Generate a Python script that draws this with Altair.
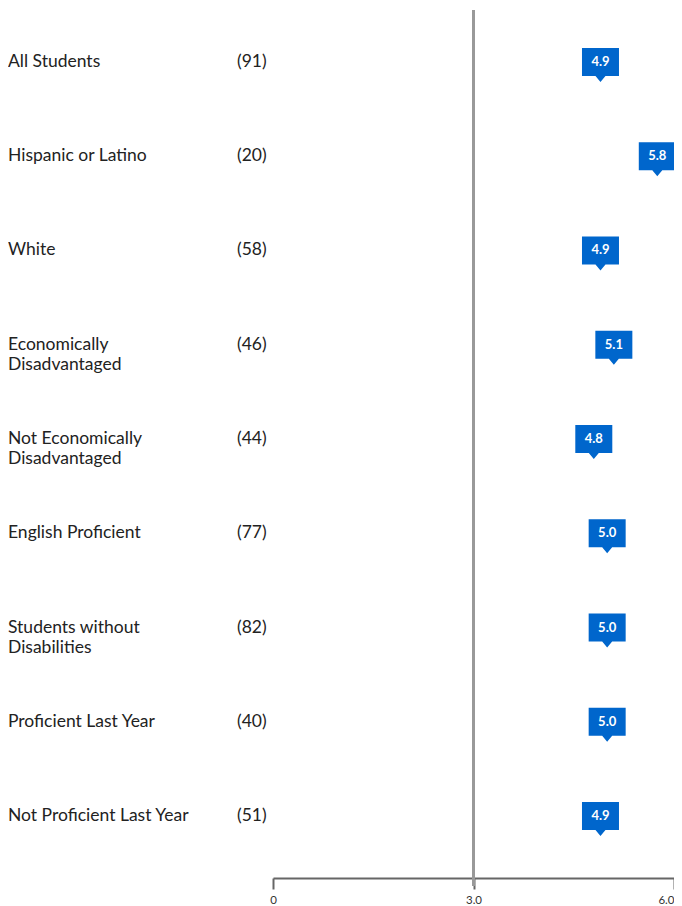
import altair as alt
import pandas as pd

categories = [
    "All Students",
    "Hispanic or Latino",
    "White",
    "Economically\nDisadvantaged",
    "Not Economically\nDisadvantaged",
    "English Proficient",
    "Students without\nDisabilities",
    "Proficient Last Year",
    "Not Proficient Last Year",
]
counts = [91, 20, 58, 46, 44, 77, 82, 40, 51]
values = [4.9, 5.75, 4.9, 5.1, 4.8, 5.0, 5.0, 5.0, 4.9]
axis_ticks = [0, 3, 6]
reference_value = 3.0

count_text = [
    f"({c})\n " if "\n" in cat else f"({c})" for cat, c in zip(categories, counts)
]
df = pd.DataFrame({"cat": categories, "count_text": count_text, "value": values})

FONT = "Lato"
BLUE = "#0066cc"

x_scale = alt.Scale(domain=[0, 6], nice=False, zero=True, padding=0)
y_enc = alt.Y(
    "cat:N",
    sort=categories,
    axis=None,
    scale=alt.Scale(type="point", padding=0.5517),
)

base = alt.Chart(df)

labels = base.mark_text(
    align="left", baseline="middle", font=FONT, fontSize=17.5, color="#222222",
    lineBreak="\n", lineHeight=20, dx=-265,
).encode(x=alt.value(0), y=y_enc, text="cat:N")

count_marks = base.mark_text(
    align="left", baseline="middle", font=FONT, fontSize=17.5, color="#222222",
    lineBreak="\n", lineHeight=20, dx=-36,
).encode(x=alt.value(0), y=y_enc, text="count_text:N")

ref = alt.Chart(pd.DataFrame({"v": [reference_value]})).mark_rule(
    color="#999999", strokeWidth=3
).encode(
    x=alt.X("v:Q", scale=x_scale),
    y=alt.value(0),
    y2=alt.value(876),
)

flag_path = "M-1,-0.757L1,-0.757L1,0.757L0.27,0.757L0,1.081L-0.27,0.757L-1,0.757Z"
flags = base.mark_point(
    shape=flag_path, size=1369, filled=True, fill=BLUE, opacity=1, strokeWidth=0
).encode(
    x=alt.X(
        "value:Q",
        scale=x_scale,
        axis=alt.Axis(
            values=axis_ticks,
            labelExpr="datum.value == 0 ? '0' : format(datum.value, '.1f')",
            title=None,
            grid=False,
            offset=10,
            domainColor="#666666",
            domainWidth=2,
            tickColor="#666666",
            tickWidth=2,
            tickSize=11,
            labelFont=FONT,
            labelFontSize=11.5,
            labelColor="#333333",
            labelPadding=5,
            labelFlush=False,
            labelAlign=alt.condition(
                "datum.value == 6", alt.value("right"), alt.value("center")
            ),
        ),
    ),
    y=y_enc,
)

flag_text = base.mark_text(
    font=FONT, fontSize=13, fontWeight="bold", color="white",
    align="center", baseline="middle",
).encode(
    x=alt.X("value:Q", scale=x_scale),
    y=y_enc,
    text=alt.Text("value:Q", format=".1f"),
)

chart = alt.layer(ref, labels, count_marks, flags, flag_text).properties(
    width=401,
    height=858,
    padding={"top": 2, "left": 265, "right": 0, "bottom": 36},
    autosize=alt.AutoSizeParams(type="none"),
).configure_view(stroke=None)

chart.save("out.html", embed_options={"renderer": "svg", "actions": False})
